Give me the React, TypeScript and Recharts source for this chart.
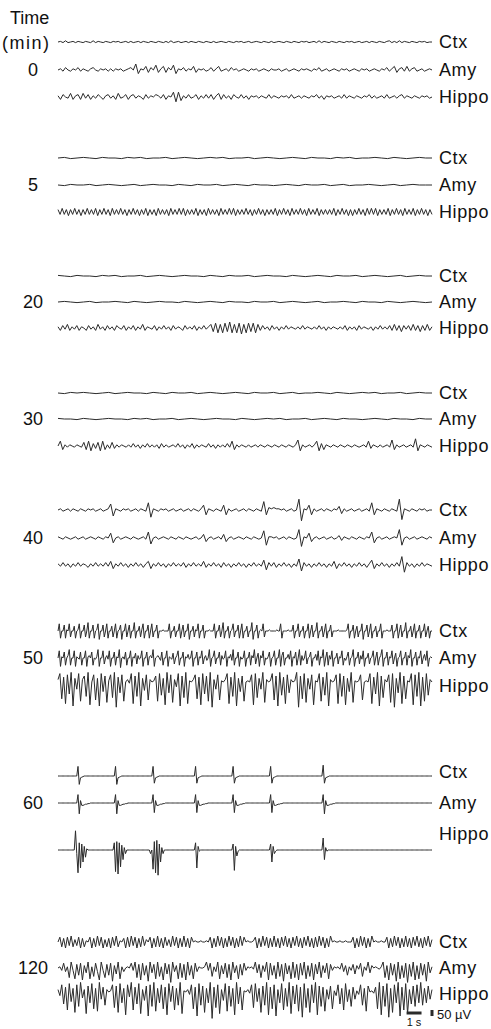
import { LineChart, Line, XAxis, YAxis } from 'recharts';

// Each sweep lasts 25 s; values are in units of 10 µV, evenly sampled along the sweep.
const SWEEP_SECONDS = 25;

const ctx0 = [0,0.5,-0.5,1,-0.5,0,0.5,-0.5,0.5,0,-0.5,0.5,0,-0.5,1,-0.5,0.5,0,-0.5,0.5,0,-0.5,0.5,0,0.5,-0.5,0,0.5,-0.5,0.5,-0.5,0,0.5,-0.5,0.5,0,-0.5,0.5,0,-0.5,0.5,0,-0.5,0.5,-0.5,1,-0.5,0,0.5,-0.5,0,0.5,-0.5,0.5,0,-0.5,0.5,0,-0.5,0.5,0,-0.5,0.5,-0.5,0,0.5,0,-0.5,0.5,0,-0.5,0.5,0,0.5,-0.5,0,0.5,-0.5,0,0.5,0,-0.5,0.5,0,-0.5,0.5,-0.5,0,0.5,0,-0.5,0.5,0,-0.5,0.5,0,-0.5,0.5,0,0.5,-0.5,0,0.5,-0.5,1,-0.5,0.5,0,-0.5,0.5,0,-0.5,0.5,0,-0.5,0.5,0,0.5,-0.5,0,0.5,-0.5,0,0.5,-0.5,0.5,0,-0.5,0.5,0,-0.5,0.5,1,-0.5,0.5,-0.5,1,-0.5,0.5,0,-0.5,0.5,0,-0.5,0.5,0,0.5,-0.5,0,0];
const amy0 = [0,1,-1,2,0,-1,1,0,2,-1,1,0,-1,1,2,0,-1,1,0,1,-1,1,-1,1,0,1,-1,0,1,2,0,5,-3,1,0,3,-2,2,0,4,-2,1,3,-2,2,0,4,-3,1,0,2,-1,1,0,3,-2,1,0,1,-1,0,2,-1,1,3,-1,0,1,-1,2,0,1,-1,0,1,0,-1,1,0,1,-1,0,1,0,-1,1,0,0,1,-1,0,1,-1,0,1,0,-1,1,0,1,0,-1,1,0,2,-1,0,1,-1,0,1,0,-1,1,0,1,-1,0,1,0,-1,1,0,1,-1,0,1,0,-1,1,0,2,-1,1,3,-2,1,2,-1,3,-1,1,2,-1,0,1,-1,0,1,0];
const hippo0 = [1,-2,2,0,-1,3,-2,1,2,-2,3,-1,2,-2,1,-1,2,0,-2,1,2,-1,1,-2,3,-1,0,2,-2,1,2,-1,1,0,-2,2,-1,1,0,2,1,-1,2,-2,1,0,4,-4,4,-3,1,-1,2,-1,0,2,-2,1,-1,2,-1,2,-2,1,3,-2,2,-1,1,-2,2,0,-1,2,-1,1,-2,1,0,1,-1,1,0,-1,2,-1,1,0,-1,1,0,1,-1,2,-1,0,1,-1,1,0,-1,1,0,2,-1,1,-2,1,0,1,-1,0,1,-1,2,-1,1,0,-1,1,0,-1,1,0,2,-1,1,-1,0,1,-1,2,-1,0,1,-1,1,2,-1,1,0,-1,1,0,-1,1,0,1,-1,0];

const ctx5 = [0,0.5,-0.5,0,0.5,0,-0.5,0.5,0,0,-0.5,0.5,0,0.5,-0.5,0,0,0.5,-0.5,0,0.5,0,-0.5,0,0.5,0,0.5,-0.5,0,0,0.5,-0.5,0,0.5,0,-0.5,0,0.5,0,-0.5,0.5,0,0,-0.5,0.5,0,0.5,-0.5,0,0,0.5,0,-0.5,0.5,0,-0.5,0,0.5,0,0];
const amy5 = [0,-0.5,0.5,0,0,0.5,-0.5,0,0.5,0,-0.5,0,0.5,-0.5,0,0.5,0,0,-0.5,0.5,0,-0.5,0.5,0,0,0.5,-0.5,0,0.5,0,-0.5,0.5,0,0,-0.5,0,0.5,0,-0.5,0.5,0,0,0.5,-0.5,0,0.5,-0.5,0,0,0.5,0,-0.5,0,0.5,-0.5,0,0.5,0,0,0];
const hippo5 = [2,-2,3,-2,2,-3,2,-2,3,-2,2,-3,2,-2,3,-2,2,-2,3,-3,2,-2,3,-2,2,-3,3,-2,2,-2,3,-2,2,-3,2,-2,3,-2,2,-3,2,-2,3,-3,2,-2,2,-3,3,-2,2,-2,2,-3,3,-2,2,-2,3,-2,3,-3,2,-2,2,-2,3,-3,2,-2,2,-3,3,-2,2,-2,2,-3,3,-2,2,-2,3,-2,3,-3,2,-2,2,-2,3,-2,2,-3,2,-2,3,-2,2,-3,2,-2,2,-2,3,-3,2,-2,3,-2,2,-3,3,-2,2,-2,3,-2,2,-3,3,-2,2,-2,3,-3,2,-2,2,-2,2,-2,3,-3,2,-2,3,-2,2,-3,2,-3,2,-2,3,-2,2,-3,3,-2,3,-2,3,-3,2,-2,2,-2,3,-3,2,-2,3,-2,2,-3,3,-2,2,-2,3,-3,2,-2,3,-2,2,-3,2,-2];

const ctx20 = [0.5,0,-0.5,0.5,0,0,-0.5,0.5,0,0.5,-0.5,0,0,0.5,-0.5,0,0.5,0,-0.5,0,0.5,0,0,-0.5,0.5,0,-0.5,0.5,0,0,0.5,-0.5,0,0.5,0,0,-0.5,0.5,0,-0.5,0,0.5,0,-0.5,0.5,0,0,0.5,-0.5,0,0.5,0,-0.5,0,0.5,-0.5,0,0.5,0,0];
const amy20 = [0,0.5,0,-0.5,0,0.5,-0.5,0,0,0.5,0,-0.5,0.5,0,-0.5,0,0.5,0,0,-0.5,0.5,0,-0.5,0,0.5,0,-0.5,0.5,0,0,-0.5,0.5,0,0,0.5,-0.5,0,0.5,0,-0.5,0,0.5,-0.5,0,0,0.5,0,-0.5,0.5,0,0,-0.5,0.5,0,-0.5,0,0.5,0,-0.5,0];
const hippo20 = [1,-2,2,-1,3,-2,1,-1,2,-2,1,0,-2,2,-1,1,-2,3,-1,1,-2,2,-1,1,-2,2,0,-1,2,-2,1,-1,2,-2,1,-1,3,-2,1,0,-1,2,-2,1,-1,2,-1,1,-2,2,-1,1,0,-2,2,-1,1,-1,2,-2,1,-1,2,-1,1,3,-3,4,-4,3,-4,4,-3,5,-4,3,-4,4,-5,3,-4,4,-3,4,-4,3,-2,2,-1,1,-2,2,-1,1,-2,1,-1,2,-1,1,0,-1,1,-1,2,-1,1,0,-1,1,-1,2,-1,1,-2,1,-1,1,0,-1,1,-1,2,-2,1,-1,1,-2,2,-1,1,0,-1,1,-2,1,-1,2,-1,1,-1,2,-2,3,-2,2,-3,2,-1,2,-2,3,-2,2,-3,2,-2,3,-2,1];

const ctx30 = [0,-0.5,0.5,0,0.5,0,-0.5,0,0.5,-0.5,0,0.5,0,0,-0.5,0.5,0,-0.5,0.5,0,0,0.5,-0.5,0,0.5,0,-0.5,0,0.5,0,-0.5,0.5,0,0,0.5,-0.5,0,0.5,-0.5,0,0,0.5,0,-0.5,0.5,0,-0.5,0,0.5,0,0.5,-0.5,0,0,0.5,-0.5,0,0.5,0,0];
const amy30 = [0.5,0,0,-0.5,0.5,0,-0.5,0,0.5,0,0,-0.5,0.5,0,0.5,-0.5,0,0,0.5,-0.5,0,0.5,0,-0.5,0,0.5,0,0,-0.5,0.5,0,-0.5,0,0.5,0,0.5,-0.5,0,0,0.5,-0.5,0,0.5,0,-0.5,0.5,0,0,-0.5,0,0.5,0,-0.5,0.5,0,0,-0.5,0.5,0,0];
const hippo30 = [0,4,-3,1,-1,1,0,-1,1,0,-1,3,-3,4,-4,2,-2,3,-4,4,-3,1,-2,3,-2,1,-1,1,0,-1,1,-1,2,-1,1,-2,1,-1,2,-1,1,-1,1,-2,2,-1,1,-1,0,1,-1,2,-1,1,-2,1,-1,2,-2,1,-1,1,0,-1,2,-1,1,-2,1,-1,1,-1,2,-1,4,-3,1,-1,1,0,-1,1,-1,0,1,-1,1,0,-1,1,0,-1,1,0,-1,1,0,-1,1,0,-1,1,5,-4,1,-1,0,1,-1,1,4,-4,2,-3,1,0,-1,1,0,-1,1,0,-1,1,0,-1,1,0,-1,0,1,-1,4,-2,1,0,-1,1,-1,0,1,-1,5,-3,1,-1,0,1,-1,0,1,-1,6,-4,1,0,-1,1,0,-1];

const ctx40 = [0,1,-1,0,1,-1,1,0,-1,1,0,-1,1,0,1,-1,0,1,-1,0,1,5,-5,1,0,-1,1,0,1,-1,0,1,-1,1,0,-1,6,-6,1,0,-1,1,0,1,-1,0,1,-1,0,1,-1,0,1,-1,1,0,-1,1,4,-4,1,0,-1,1,0,-1,4,-4,1,-1,0,1,-1,0,1,-1,1,0,-1,1,0,-1,7,-4,2,1,2,1,1,0,1,-1,0,1,-1,0,9,-9,1,0,4,-4,1,-1,0,1,-1,1,0,-1,1,0,3,-3,1,-1,0,1,-1,0,1,-1,0,1,-1,6,-4,1,0,-1,1,0,-1,1,0,-1,9,-8,1,0,-1,1,0,-1,1,0,1,-1,0,0];
const amy40 = [1,0,-1,1,0,-1,0,1,-1,0,1,-1,0,1,0,-1,1,0,-1,1,0,4,-4,0,1,-1,0,1,0,-1,1,0,-1,0,1,-1,5,-5,0,1,-1,0,1,0,-1,1,0,-1,1,0,-1,1,0,-1,0,1,-1,0,3,-3,0,1,-1,0,1,-1,3,-3,0,1,-1,0,1,0,-1,1,0,-1,1,0,-1,0,6,-6,1,1,0,1,-1,0,1,-1,1,0,-1,0,7,-7,1,0,4,-3,0,1,-1,0,1,-1,0,1,-1,0,2,-2,1,0,-1,1,0,-1,1,0,-1,1,0,5,-4,0,1,-1,0,1,-1,0,1,0,7,-6,0,1,-1,0,1,-1,0,1,0,-1,1,0];
const hippo40 = [1,-1,2,-1,1,-2,1,-1,2,-1,1,0,-2,1,-1,2,-1,1,-1,2,-1,3,-3,1,-1,2,-1,1,-2,1,-1,2,-1,1,-2,1,3,-3,1,-1,2,-1,1,-2,1,-1,2,-1,1,-1,2,-2,1,-1,2,-1,1,-1,3,-2,1,-1,2,-1,1,-2,2,-1,1,-2,1,-1,2,-1,1,-2,1,-1,2,-1,1,-1,4,-4,2,-1,2,-2,1,-1,2,-1,1,-2,1,-1,5,-5,2,-1,1,-2,1,-1,2,-1,1,-2,1,-1,3,-3,1,-1,2,-1,1,-2,1,-1,2,-1,1,-2,1,4,-3,1,-1,2,-1,1,-2,1,-1,2,-1,7,-6,2,-1,1,-2,1,-1,2,-1,1,0,-1];

const ctx50 = [
  0,6,-6,0,0,5,-6,1,0,6,-5,0,0,4,-6,0,1,6,-6,0,
  0,5,-5,0,7,-6,0,0,5,-6,0,1,6,-7,0,0,5,-5,0,6,
  -6,0,0,4,-5,0,6,-6,0,1,5,-7,0,0,6,-5,0,5,-6,0,
  0,7,-6,0,0,4,-5,1,6,-6,0,0,5,-6,0,6,-5,0,0,5,
  -6,0,0,0,1,0,0,0,0,6,-6,0,0,4,-5,0,0,6,-6,0,
  5,-5,0,0,6,-7,0,0,4,-5,1,0,6,-6,0,0,5,-6,0,0,
  0,1,0,0,0,6,-6,0,0,5,-5,0,7,-6,0,0,4,-6,0,1,
  6,-5,0,0,5,-6,0,6,-6,0,0,4,-5,0,0,7,-7,0,0,5,
  -6,0,1,0,6,-5,0,0,0,1,0,0,0,0,0,1,0,0,6,-6,
  0,0,0,0,1,0,0,0,5,-6,0,0,6,-5,0,0,4,-6,0,0,
  6,-6,0,5,-5,0,0,7,-6,0,0,4,-5,0,6,-6,0,0,5,-5,
  0,0,0,0,1,0,0,0,0,0,0,1,6,-6,0,0,5,-6,0,4,
  -5,0,0,6,-7,0,0,5,-5,0,6,-6,0,0,4,-5,0,0,6,-6,
  0,0,0,1,0,0,0,5,-6,0,0,6,-6,0,5,-5,0,0,7,-6,
  0,0,4,-5,0,6,-6,0,0,5,-6,0,0,6,-5,0,4,-6,0,0,
];
const amy50 = [
  0,6,-7,1,0,5,-6,0,2,7,-6,0,0,6,-7,1,0,-1,5,-6,
  0,0,6,-7,1,2,0,5,-6,0,-1,1,7,-7,0,0,6,-5,0,2,
  -1,6,-7,0,0,5,-6,1,0,7,-8,0,1,-1,5,-6,0,0,6,-7,
  1,0,4,-5,2,-1,0,6,-7,0,0,5,-6,1,2,0,7,-7,0,1,
  2,0,-2,5,-6,0,0,6,-7,1,0,-1,4,-5,0,2,6,-6,0,0,
  5,-7,1,0,3,-1,0,6,-7,0,0,5,-6,1,0,6,-5,0,2,-2,
  0,7,-7,0,1,6,-5,0,0,5,-6,2,-1,0,6,-7,1,0,3,-2,
  7,-6,0,0,5,-7,1,-1,0,6,-7,0,0,5,-6,2,0,7,-5,0,
  4,-7,2,0,6,-6,0,-1,1,5,-7,0,1,6,-6,0,0,7,-7,2,
  5,-6,0,0,3,-1,6,-7,1,0,5,-6,0,7,-6,2,-2,0,6,-5,
  0,1,5,-7,0,0,3,-2,6,-6,1,0,7,-7,0,5,-6,2,-1,6,
  -7,0,0,4,-5,1,0,6,-6,0,-2,1,5,-6,0,1,7,-7,0,0,
  5,-5,2,-1,6,-7,0,0,4,-5,0,1,6,-6,0,5,-6,0,2,7,
  -7,0,0,5,-6,1,0,6,-5,0,4,-7,0,1,6,-6,0,0,5,-6,
  2,0,7,-7,0,0,5,-6,1,0,6,-5,0,3,-2,6,-7,0,1,0,
];
const hippo50 = [2,7,-14,4,-18,6,-10,8,-20,3,-6,7,-16,2,5,-12,8,-19,0,6,-15,3,-20,7,-8,5,-17,1,6,-13,8,-21,4,-9,6,-16,0,2,-1,7,-18,5,-12,8,-20,3,-7,6,-15,2,0,1,5,-16,7,-11,3,-19,8,-9,6,-17,2,-4,7,-20,5,-13,8,-18,1,0,2,6,-14,4,-19,7,-10,5,-16,8,-21,2,-6,6,-15,1,0,2,7,-18,4,-12,8,-20,3,-8,5,-16,0,1,0,6,-19,7,-13,3,-6,8,-17,2,0,1,7,-15,5,-20,8,-11,4,-18,6,-9,2,0,1,8,-21,5,-14,7,-17,3,-6,6,-19,1,0,7,-16,4,-11,8,-20,2,0,1,6,-18,7,-12,5,-19,3,-8,8,-17,1,0,1,6,-15,0,1,0,7,-18,4,-10,8,-20,5,-13,2,0,6,-17,7,-21,3,-9,8,-18,5,-14,1,0,7,-19,6,-12,8,-20,4,-16,7,-11,2,0];

const ctx60 = [
  0,0,0,0,0,0,0,0,0,0,0,0,0,0,0,0,8,-7,-1.5,-1,
  -0.5,0,0,0,0,0,0,0,0,0,0,0,0,0,0,0,0,0,0,0,
  0,0,0,0,0,0,8,-7,-1.5,-1,-0.5,0,0,0,0,0,0,0,0,0,
  0,0,0,0,0,0,0,0,0,0,0,0,0,0,0,0,8,-6,-1.5,-1,
  -0.5,0,0,0,0,0,0,0,0,0,0,0,0,0,0,0,0,0,0,0,
  0,0,0,0,0,0,0,0,0,0,8,-6,-1.5,-1,-0.5,0,0,0,0,0,
  0,0,0,0,0,0,0,0,0,0,0,0,0,0,0,0,0,0,0,0,
  8,-6,-1.5,-1,-0.5,0,0,0,0,0,0,0,0,0,0,0,0,0,0,0,
  0,0,0,0,0,0,0,0,0,0,8,-6,-1.5,-1,-0.5,0,0,0,0,0,
  0,0,0,0,0,0,0,0,0,0,0,0,0,0,0,0,0,0,0,0,
  0,0,0,0,0,0,0,0,0,0,0,0,9,-6,-1.5,-1,-0.5,0,0,0,
  0,0,0,0,0,0,0,0,0,0,0,0,0,0,0,0,0,0,0,0,
  0,0,0,0,0,0,0,0,0,0,0,0,0,0,0,0,0,0,0,0,
  0,0,0,0,0,0,0,0,0,0,0,0,0,0,0,0,0,0,0,0,
  0,0,0,0,0,0,0,0,0,0,0,0,0,0,0,0,0,0,0,0,
];
const amy60 = [
  0,0,0,0,0,0,0,0,0,0,0,0,0,0,0,0,7,-9,2,-2,
  -2,-1.5,-1,-1,-0.5,-0.5,0,0,0,0,0,0,0,0,0,0,0,0,0,0,
  0,0,0,0,0,0,7,-9,2,-2,-2,-1.5,-1,-1,-0.5,-0.5,0,0,0,0,
  0,0,0,0,0,0,0,0,0,0,0,0,0,0,0,0,7,-8,2,-2,
  -2,-1.5,-1,-1,-0.5,-0.5,0,0,0,0,0,0,0,0,0,0,0,0,0,0,
  0,0,0,0,0,0,0,0,0,0,7,-8,2,-2,-2,-1.5,-1,-1,-0.5,-0.5,
  0,0,0,0,0,0,0,0,0,0,0,0,0,0,0,0,0,0,0,0,
  7,-8,2,-2,-2,-1.5,-1,-1,-0.5,-0.5,0,0,0,0,0,0,0,0,0,0,
  0,0,0,0,0,0,0,0,0,0,7,-8,2,-2,-2,-1.5,-1,-1,-0.5,-0.5,
  0,0,0,0,0,0,0,0,0,0,0,0,0,0,0,0,0,0,0,0,
  0,0,0,0,0,0,0,0,0,0,0,0,7,-9,2,-2,-2,-1.5,-1,-1,
  -0.5,-0.5,0,0,0,0,0,0,0,0,0,0,0,0,0,0,0,0,0,0,
  0,0,0,0,0,0,0,0,0,0,0,0,0,0,0,0,0,0,0,0,
  0,0,0,0,0,0,0,0,0,0,0,0,0,0,0,0,0,0,0,0,
  0,0,0,0,0,0,0,0,0,0,0,0,0,0,0,0,0,0,0,0,
];
const hippo60 = [
  0,0,0,0,0,0,0,0,0,0,0,0,0,0,16,-3,-19,6,-15,5,
  -10,3,-6,1,0,0,0,0,0,0,0,0,0,0,0,0,0,0,0,0,
  0,0,0,0,0,6,-18,7,-20,6,-14,4,-8,2,-3,0,0,0,0,0,
  0,0,0,0,0,0,0,0,0,0,0,0,0,0,-3,0,-16,7,-19,8,
  -21,5,-10,2,-3,0,0,0,0,0,0,0,0,0,0,0,0,0,0,0,
  0,0,0,0,0,0,0,0,0,0,6,-15,3,-1,0,0,0,0,0,0,
  0,0,0,0,0,0,0,0,0,0,0,0,0,0,0,0,0,0,0,0,
  5,-17,3,-5,-1,0,0,0,0,0,0,0,0,0,0,0,0,0,0,0,
  0,0,0,0,0,0,0,0,0,0,5,-10,3,-3,-1,0,0,0,0,0,
  0,0,0,0,0,0,0,0,0,0,0,0,0,0,0,0,0,0,0,0,
  0,0,0,0,0,0,0,0,0,0,0,0,10,-8,2,-1,0,0,0,0,
  0,0,0,0,0,0,0,0,0,0,0,0,0,0,0,0,0,0,0,0,
  0,0,0,0,0,0,0,0,0,0,0,0,0,0,0,0,0,0,0,0,
  0,0,0,0,0,0,0,0,0,0,0,0,0,0,0,0,0,0,0,0,
  0,0,0,0,0,0,0,0,0,0,0,0,0,0,0,0,0,0,0,0,
];

const ctx120 = [0,4,-4,3,-5,4,-3,5,-4,2,-3,4,-5,3,-4,1,0,4,-5,3,-4,5,-3,4,-5,2,-4,3,-5,4,-3,5,-4,1,0,3,-5,4,-4,5,-3,4,-5,3,-4,5,-3,2,0,4,-5,3,-4,5,-4,3,-5,4,-3,2,-4,5,-3,4,-5,3,-4,5,-4,3,-5,4,0,1,0,0,1,0,0,1,0,4,-5,3,-4,5,-3,4,-5,3,-4,5,-3,4,-5,3,-4,5,-3,4,0,1,0,0,1,4,-5,3,-4,5,-3,4,-5,3,-4,5,-4,3,-5,4,-3,5,-4,3,-5,4,-3,5,-4,3,-5,4,-3,5,-4,3,-5,4,-4,5,-3,4,-5,3,-4,5,0,1,0,0,1,0,0,1,0,0,0,4,-5,3,-4,5,-3,4,-5,3,-4,5,0,1,0,0,1,0,0,4,-5,3,-4,5,-3,4,-5,3,-4,5,-4,3,-5,4,-3,5,-4,3,-5,4,-3,5,-4,2];
const amy120 = [0,1,-2,4,-3,1,-8,5,-2,-9,3,-6,4,-10,2,-4,5,-9,1,-7,4,-3,-10,5,-2,-8,3,-6,4,-11,2,-5,5,-9,1,-3,0,1,0,4,-2,5,-8,3,-10,4,-6,2,-11,5,-4,3,-9,5,-7,1,-10,4,-5,3,-12,5,-3,2,-9,4,-8,3,-10,5,-6,2,-9,4,-3,1,0,0,1,5,-2,4,-7,1,-3,5,-9,2,-5,4,-8,3,-10,5,-4,2,-9,3,-6,4,-2,1,0,1,-1,5,-4,3,-8,2,-3,5,-10,4,-6,2,-9,5,-7,3,-11,4,-5,2,-9,5,-8,3,-10,4,-6,5,-9,2,-7,4,-10,3,-5,5,-8,2,-4,4,-9,3,-2,1,0,1,-1,4,-3,2,-6,1,-2,3,-5,2,-1,4,-7,1,-2,5,-4,2,0,1,0,-1,1,5,-8,2,-10,4,-6,3,-11,5,-9,2,-8,4,-12,3,-7,5,-10,2,-9,4,-6,3,-11,5,-4,1];
const hippo120 = [2,-3,6,-10,4,-15,7,-8,3,-17,6,-12,8,-5,2,-18,5,-9,7,-14,3,-16,8,-6,4,-11,2,0,1,6,-13,5,-17,7,-9,3,-19,6,-4,8,-15,4,-10,7,-18,2,-7,5,-20,6,-12,8,-16,3,-9,6,-14,4,-19,7,-8,5,-15,3,-11,8,-18,1,0,2,-2,6,-14,4,-20,7,-11,5,-17,3,-9,8,-22,4,-13,6,-18,2,-7,7,-16,5,-12,3,-19,8,-10,4,-15,1,0,2,-1,6,-13,7,-8,3,-17,5,-11,8,-19,4,-14,6,-20,2,-9,7,-15,3,-12,8,-18,5,-10,6,-16,4,-21,7,-13,3,-17,6,-9,8,-19,5,-12,4,-16,2,-6,5,-14,1,-3,6,-10,3,-15,7,-8,2,-12,4,-6,1,-2,6,-11,3,-16,5,0,1,-1,4,-14,8,-19,5,-12,7,-21,3,-17,6,-9,8,-20,4,-15,7,-18,2,-10,5,-12,6,-9,8,-11,3,-9,5,-6,2];

// scale bar: 1 s horizontal, 50 µV (5 units) vertical
const scaleBarTime = [23.3, 24.3];
const scaleBarVolt = [-2.5, 2.5];

const channels = ['Ctx', 'Amy', 'Hippo'];

const blocks = [
  { minute: '0', traces: [ctx0, amy0, hippo0] },
  { minute: '5', traces: [ctx5, amy5, hippo5] },
  { minute: '20', traces: [ctx20, amy20, hippo20] },
  { minute: '30', traces: [ctx30, amy30, hippo30] },
  { minute: '40', traces: [ctx40, amy40, hippo40] },
  { minute: '50', traces: [ctx50, amy50, hippo50] },
  { minute: '60', traces: [ctx60, amy60, hippo60] },
  { minute: '120', traces: [ctx120, amy120, hippo120] },
];

// layout: baseline of each trace (px) and where its label sits
const traceY = [
  [42, 70, 97],
  [158, 185, 212],
  [276, 302, 328],
  [393, 419, 446],
  [510, 538, 565],
  [631, 658, 682],
  [776, 803, 850],
  [942, 968, 992],
];
const labelY = [
  [42, 70, 97],
  [158, 185, 212],
  [276, 302, 328],
  [393, 419, 446],
  [510, 538, 565],
  [631, 658, 686],
  [772, 803, 834],
  [942, 968, 994],
];

const CHART_W = 491;
const CHART_H = 96;
const MARGIN = { top: 0, right: 59, bottom: 0, left: 58 };
const INK = '#2b2b2b';
const FONT = '"Liberation Sans", Arial, Helvetica, sans-serif';

function Trace({ values, y }: { values: number[]; y: number }) {
  const data = values.map((v, i) => ({ t: (i * SWEEP_SECONDS) / (values.length - 1), v }));
  return (
    <div style={{ position: 'absolute', left: 0, top: y - CHART_H / 2 }}>
      <LineChart width={CHART_W} height={CHART_H} data={data} margin={MARGIN}>
        <XAxis type="number" dataKey="t" domain={[0, SWEEP_SECONDS]} hide />
        <YAxis type="number" domain={[-40, 40]} hide allowDataOverflow />
        <Line
          type="linear"
          dataKey="v"
          stroke={INK}
          strokeWidth={1}
          dot={false}
          isAnimationActive={false}
        />
      </LineChart>
    </div>
  );
}

function ScaleBar({ y }: { y: number }) {
  const hBar = scaleBarTime.map((t) => ({ t, v: 0 }));
  const vBar = scaleBarVolt.map((v) => ({ t: SWEEP_SECONDS, v }));
  return (
    <div style={{ position: 'absolute', left: 0, top: y - CHART_H / 2 }}>
      <LineChart width={CHART_W} height={CHART_H} margin={MARGIN}>
        <XAxis type="number" dataKey="t" domain={[0, SWEEP_SECONDS]} hide />
        <YAxis type="number" domain={[-40, 40]} hide />
        <Line data={hBar} dataKey="v" stroke={INK} strokeWidth={3} dot={false} isAnimationActive={false} />
        <Line data={vBar} dataKey="v" stroke={INK} strokeWidth={3} dot={false} isAnimationActive={false} />
      </LineChart>
    </div>
  );
}

const textStyle = (left: number, top: number, size = 18): React.CSSProperties => ({
  position: 'absolute',
  left,
  top,
  transform: 'translateY(-50%)',
  fontFamily: FONT,
  fontSize: size,
  lineHeight: 1,
  color: '#111',
  whiteSpace: 'nowrap',
});

export default function App() {
  return (
    <div
      style={{
        position: 'absolute',
        left: 0,
        top: 0,
        width: 491,
        height: 1029,
        background: '#fff',
        overflow: 'hidden',
      }}
    >
      <div style={textStyle(10, 18)}>Time</div>
      <div style={{ ...textStyle(2, 43), letterSpacing: 1.5 }}>(min)</div>
      {blocks.map((b, bi) => (
        <div key={b.minute}>
          <div
            style={{
              ...textStyle(0, traceY[bi][1]),
              width: 66,
              textAlign: 'center',
            }}
          >
            {b.minute}
          </div>
          {b.traces.map((vals, ci) => (
            <Trace key={ci} values={vals} y={traceY[bi][ci]} />
          ))}
          {channels.map((c, ci) => (
            <div key={c} style={{ ...textStyle(439, labelY[bi][ci]), letterSpacing: 0.6 }}>
              {c}
            </div>
          ))}
        </div>
      ))}
      <ScaleBar y={1013} />
      <div style={textStyle(437, 1014, 13)}>50 µV</div>
      <div style={{ ...textStyle(403, 1022, 11), width: 22, textAlign: 'center' }}>1 s</div>
    </div>
  );
}
